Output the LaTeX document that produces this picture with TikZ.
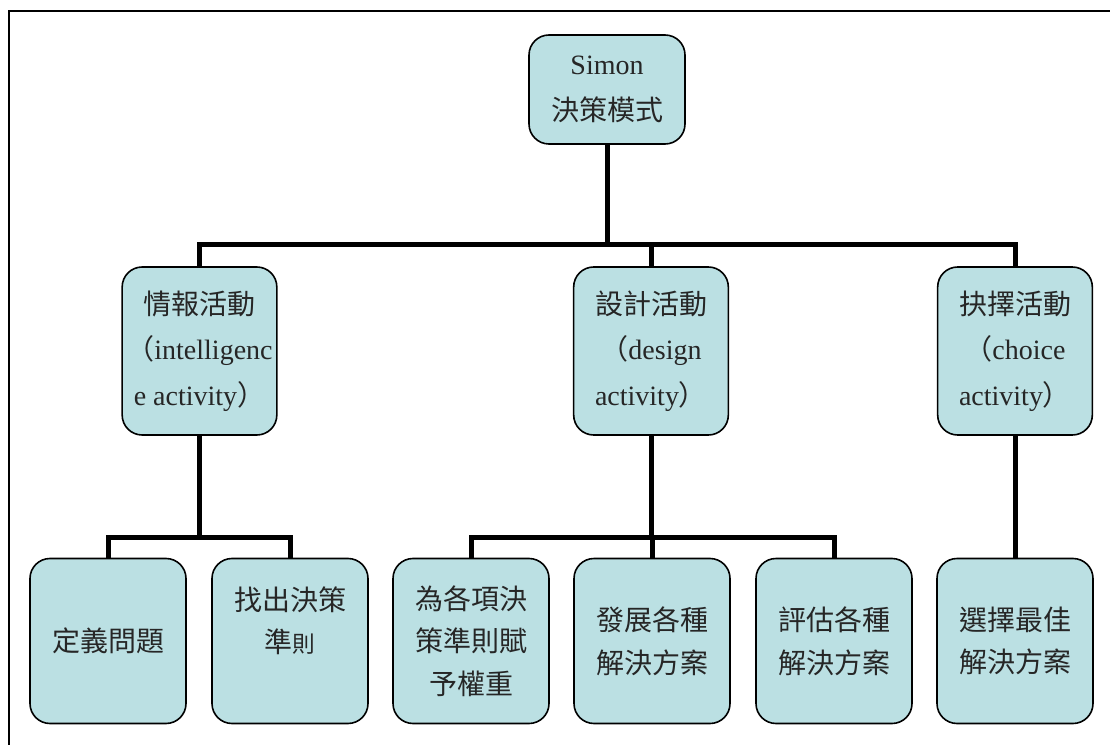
\documentclass[tikz,border=0pt]{standalone}
\usepackage{fontspec}
\setmainfont{Liberation Serif}
\newfontfamily\cjk{Noto Sans CJK TC}
\definecolor{boxfill}{HTML}{BBE0E3}
\begin{document}
\begin{tikzpicture}[x=0.75pt,y=-0.75pt,
    box/.style={draw=black, line width=1.2pt, fill=boxfill, rounded corners=15pt,
      align=center, inner sep=0pt, text=black!85, font=\fontsize{21}{33}\selectfont},
    rootbox/.style={box, minimum width=117pt, minimum height=81.75pt, font=\fontsize{21}{35}\selectfont},
    actbox/.style={box, minimum width=116pt, minimum height=126pt, font=\fontsize{21}{34}\selectfont},
    leafbox/.style={box, minimum width=117pt, minimum height=123.75pt, font=\fontsize{21}{32}\selectfont},
    link/.style={line width=3.75pt}]
  \useasboundingbox (0,0) rectangle (1110,745);
  \draw[line width=1.5pt] (1110,11) -- (9,11) -- (9,745);

  \node (simon) [rootbox] at (607,89.5) {Simon\\{\cjk 決策模式}};

  \node (intel) [actbox] at (199.5,351) {{\cjk 情報活動}\\{\cjk （}intelligenc\\e activity{\cjk ）}};
  \node (design) [actbox] at (651,351) {{\cjk 設計活動}\\{\cjk （}design\\activity{\cjk ）}};
  \node (choice) [actbox] at (1015,351) {{\cjk 抉擇活動}\\{\cjk （}choice\\activity{\cjk ）}};

  \node (define) [leafbox] at (108,641) {\cjk 定義問題};
  \node (criteria) [leafbox] at (290,641) {\cjk 找出決策\\\cjk 準{\fontsize{17}{32}\selectfont 則}\\\mbox{}};
  \node (weight) [leafbox] at (471,641) {\cjk 為各項決\\\cjk 策準則賦\\\cjk 予權重};
  \node (develop) [leafbox] at (652,641) {\cjk 發展各種\\\cjk 解決方案};
  \node (evaluate) [leafbox] at (834,641) {\cjk 評估各種\\\cjk 解決方案};
  \node (select) [leafbox] at (1015,641) {\cjk 選擇最佳\\\cjk 解決方案};

  % level 1 -> level 2
  \coordinate (bar1) at (607,245);
  \draw[link] (simon) -- (bar1);
  \draw[link] (bar1) -| (intel.north);
  \draw[link] (bar1) -| (design.north);
  \draw[link] (bar1) -| (choice.north);

  % level 2 -> level 3
  \coordinate (bar2) at (199.5,537);
  \draw[link] (intel) -- (bar2);
  \draw[link] (bar2) -| (define.north);
  \draw[link] (bar2) -| (criteria.north);
  \coordinate (bar3) at (651,537);
  \draw[link] (design) -- (bar3);
  \draw[link] (bar3) -| (weight.north);
  \draw[link] (bar3) -| (develop.north);
  \draw[link] (bar3) -| (evaluate.north);
  \draw[link] (choice) -- (select);
\end{tikzpicture}
\end{document}
